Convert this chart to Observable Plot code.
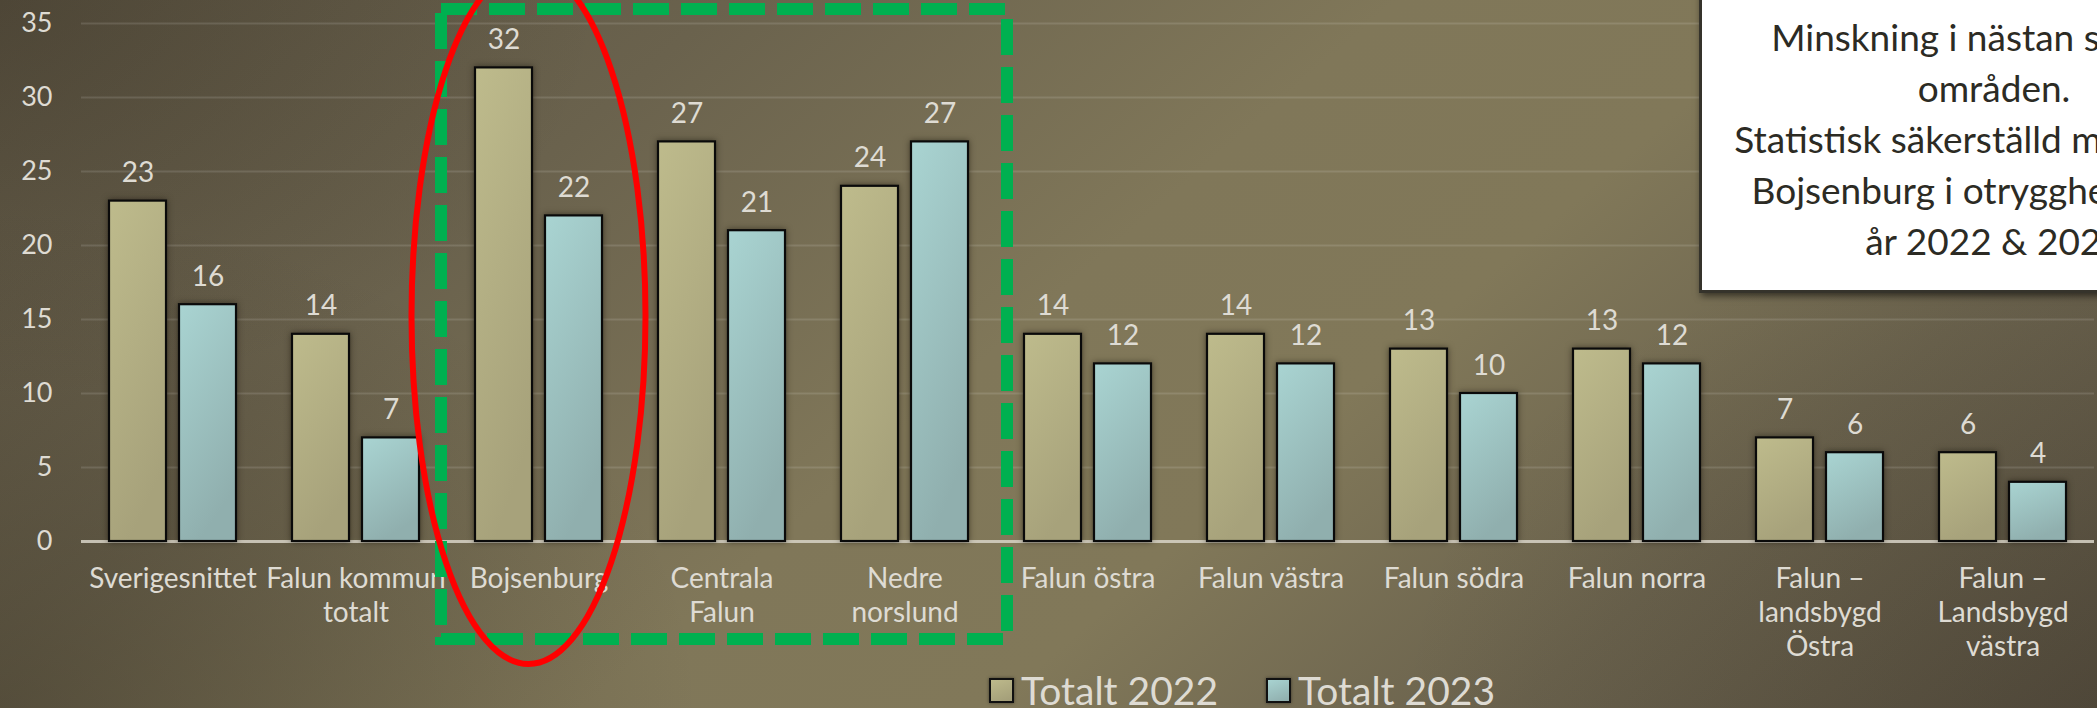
<!DOCTYPE html>
<html>
<head>
<meta charset="utf-8">
<script src="https://cdn.jsdelivr.net/npm/d3@7"></script>
<script src="https://cdn.jsdelivr.net/npm/@observablehq/plot@0.6"></script>
<style>
html, body { margin: 0; padding: 0; width: 2097px; height: 708px; overflow: hidden; }
body {
  position: relative;
  font-family: Lato, "Noto Sans", sans-serif;
  background:
    radial-gradient(ellipse 700px 500px at 0% 100%, rgba(40,34,22,0.35), rgba(40,34,22,0) 100%),
    radial-gradient(ellipse 600px 400px at 0% 0%, rgba(40,34,22,0.25), rgba(40,34,22,0) 100%),
    radial-gradient(ellipse 700px 500px at 100% 100%, rgba(40,34,22,0.2), rgba(40,34,22,0) 100%),
    linear-gradient(139deg, #5a5241 0%, #6a624d 25%, #807759 48%, #817859 62%, #6a624d 80%, #585041 100%);
}
#chart { position: absolute; left: 0; top: 0; }
#chart svg { overflow: visible; }
g[aria-label="bar"] rect { filter: drop-shadow(0px 0px 3px rgba(20,16,8,0.55)); }
#note {
  position: absolute; left: 1699px; top: -30px; width: 590px; height: 323px;
  box-sizing: border-box; background: #ffffff; border: 3px solid #35332b;
  box-shadow: 2px 3px 7px rgba(0,0,0,0.55);
  text-align: center; font-size: 37px; line-height: 51px; color: #2c2b24;
  padding-top: 38px;
}
.leg { position: absolute; top: 671px; height: 38px; display: flex; align-items: center;
  font-size: 39px; line-height: 38px; color: #dedbd3; }
.sw { width: 21px; height: 21px; border: 2px solid #111; margin-right: 7px;
  box-shadow: 0 0 3px rgba(0,0,0,0.5); }
</style>
</head>
<body>
<div id="chart"></div>
<div id="note"></div>
<div id="legend"></div>
<script>
// ---- data ----
const categories = ["Sverigesnittet", "Falun kommun totalt", "Bojsenburg", "Centrala Falun", "Nedre norslund",
  "Falun östra", "Falun västra", "Falun södra", "Falun norra", "Falun – landsbygd Östra", "Falun – Landsbygd västra"];
const tickLabels = ["Sverigesnittet", "Falun kommun\ntotalt", "Bojsenburg", "Centrala\nFalun", "Nedre\nnorslund",
  "Falun östra", "Falun västra", "Falun södra", "Falun norra", "Falun –\nlandsbygd\nÖstra", "Falun –\nLandsbygd\nvästra"];
const series = ["Totalt 2022", "Totalt 2023"];
const values2022 = [23, 14, 32, 27, 24, 14, 14, 13, 13, 7, 6];
const values2023 = [16, 7, 22, 21, 27, 12, 12, 10, 12, 6, 4];
const yTicks = [0, 5, 10, 15, 20, 25, 30, 35];
const noteLines = ["Minskning i nästan samtliga", "områden.", "Statistisk säkerställd minskning i",
  "Bojsenburg i otrygghet mellan", "år 2022 & 2023"];
const highlightGroup = ["Bojsenburg", "Centrala Falun", "Nedre norslund"];
const circledCategory = "Bojsenburg";

const seriesFill = ["url(#g2022)", "url(#g2023)"];
const legendFill = ["linear-gradient(160deg,#bdb98b,#a29d78)", "linear-gradient(160deg,#a8d3d1,#8fadac)"];

const data = categories.flatMap((c, i) => [
  {cat: c, series: series[0], value: values2022[i]},
  {cat: c, series: series[1], value: values2023[i]}
]);
const labelOf = new Map(categories.map((c, i) => [c, tickLabels[i]]));

const txt = "#dedbd3";
const plot = Plot.plot({
  width: 2097, height: 708,
  marginTop: 23, marginBottom: 167, marginLeft: 77, marginRight: 0,
  style: {background: "transparent", fontFamily: "Lato, 'Noto Sans', sans-serif", fontSize: "27px", color: txt},
  fx: {domain: categories, padding: 0, label: null},
  x: {domain: series, paddingInner: 0.183, paddingOuter: 0.385, axis: null},
  y: {domain: [0, 35], label: null},
  color: {domain: series, range: seriesFill},
  marks: [
    Plot.gridY(yTicks, {stroke: "#ffffff", strokeOpacity: 0.12, strokeWidth: 2}),
    Plot.axisY(yTicks, {tickSize: 0, tickPadding: 29, fontSize: 27, fill: txt, label: null}),
    Plot.axisFx({anchor: "bottom", tickSize: 0, tickPadding: 23, fontSize: 28, lineHeight: 1.2,
      fill: txt, label: null, tickFormat: d => labelOf.get(d)}),
    Plot.ruleY([0], {stroke: "#d6d1c4", strokeOpacity: 0.85, strokeWidth: 3}),
    Plot.barY(data, {fx: "cat", x: "series", y: "value", fill: "series", stroke: "#0a0a0a", strokeWidth: 2.2}),
    Plot.text(data, {fx: "cat", x: "series", y: "value", text: d => String(d.value),
      lineAnchor: "bottom", dy: -19, fontSize: 28, fill: txt})
  ]
});
document.getElementById("chart").appendChild(plot);

// gradients for bar fills
const svg = d3.select(plot);
const defs = svg.insert("defs", ":first-child");
const grads = [["g2022", "#bebb8c", "#a7a27b"], ["g2023", "#a9d4d2", "#90afae"]];
for (const [id, c0, c1] of grads) {
  const g = defs.append("linearGradient").attr("id", id)
    .attr("x1", 0).attr("y1", 0).attr("x2", 0.35).attr("y2", 1);
  g.append("stop").attr("offset", "0%").attr("stop-color", c0);
  g.append("stop").attr("offset", "100%").attr("stop-color", c1);
}

// annotations positioned through the chart's own scales
const fx = plot.scale("fx");
const y = plot.scale("y");
const ann = svg.append("g").attr("aria-label", "annotations");
const gx0 = fx.apply(highlightGroup[0]) - 6;
const gx1 = fx.apply(highlightGroup[highlightGroup.length - 1]) + fx.bandwidth + 11;
const gy0 = y.apply(35) - 14;
const gy1 = y.apply(0) + 98;
ann.append("rect")
  .attr("x", gx0).attr("y", gy0).attr("width", gx1 - gx0).attr("height", gy1 - gy0)
  .attr("fill", "none").attr("stroke", "#00b050").attr("stroke-width", 12)
  .attr("stroke-dasharray", "36 12");
const cx = fx.apply(circledCategory) + fx.bandwidth / 2 - 10;
const yBottom = y.apply(0) + 123;
const ry = 348;
ann.append("ellipse")
  .attr("cx", cx).attr("cy", yBottom - ry).attr("rx", 117).attr("ry", ry)
  .attr("fill", "none").attr("stroke", "#ff0000").attr("stroke-width", 6);

// text box
const note = document.getElementById("note");
noteLines.forEach(t => { const d = document.createElement("div"); d.textContent = t; d.style.whiteSpace = "nowrap"; note.appendChild(d); });

// legend
const legend = document.getElementById("legend");
const legLeft = [989, 1266];
series.forEach((s, i) => {
  const item = document.createElement("div");
  item.className = "leg";
  item.style.left = legLeft[i] + "px";
  const sw = document.createElement("div");
  sw.className = "sw";
  sw.style.background = legendFill[i];
  const lab = document.createElement("span");
  lab.textContent = s;
  item.appendChild(sw); item.appendChild(lab);
  legend.appendChild(item);
});
</script>
</body>
</html>
